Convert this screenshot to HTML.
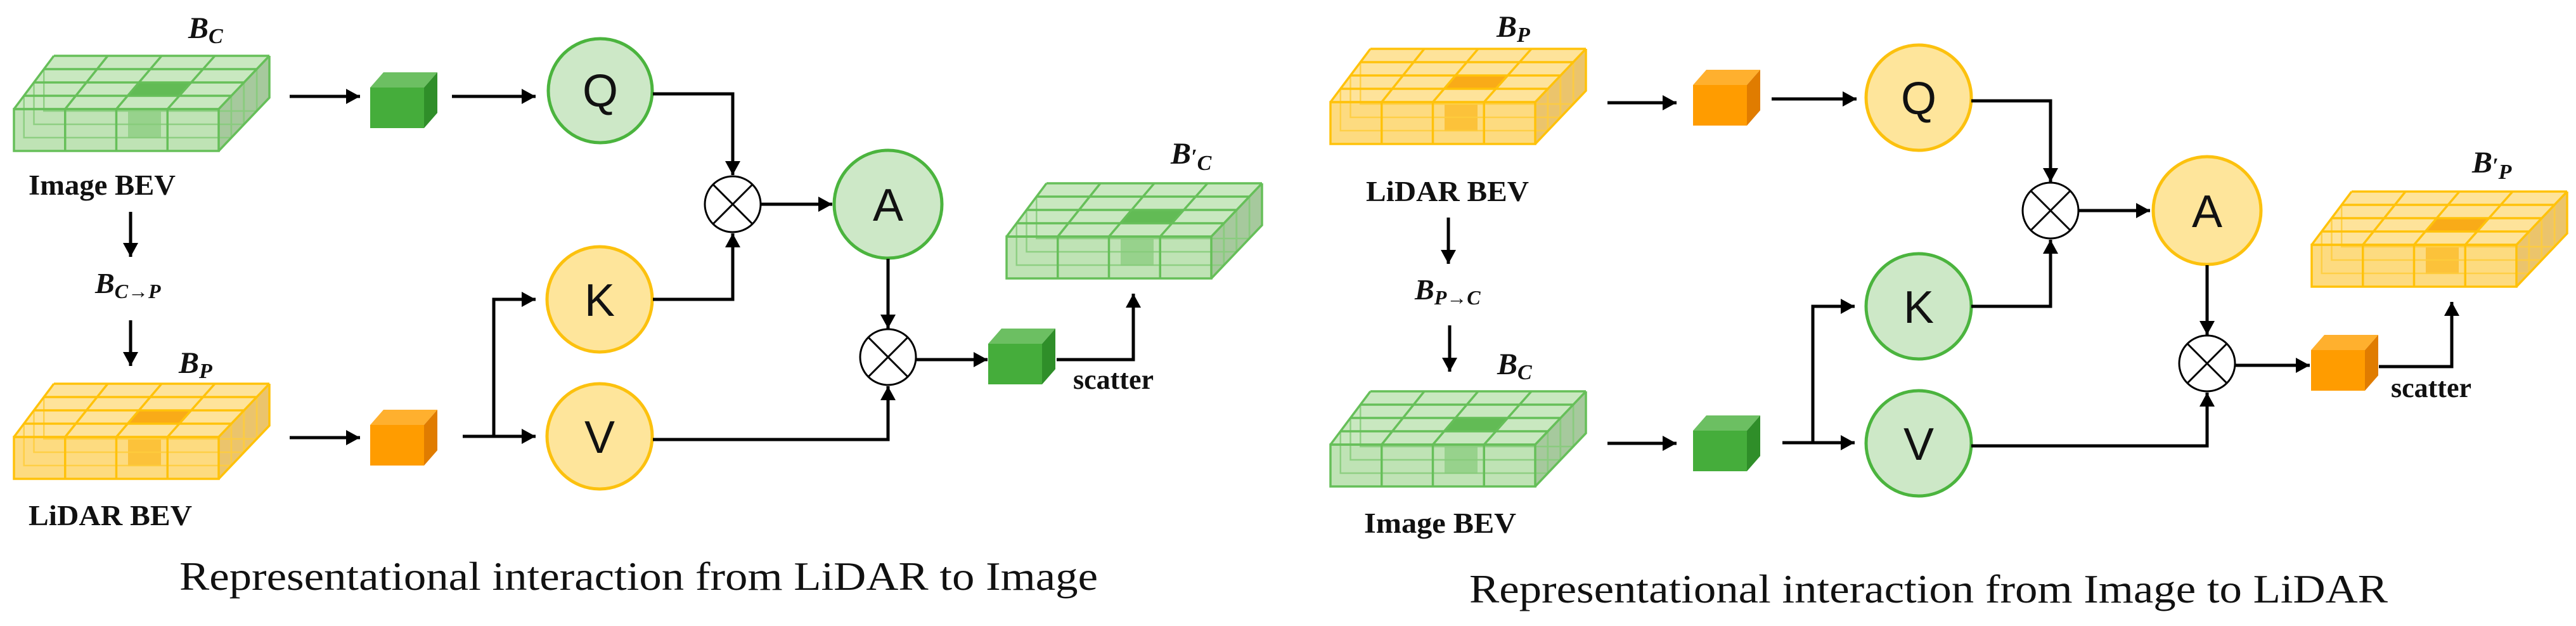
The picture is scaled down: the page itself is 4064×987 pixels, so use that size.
<!DOCTYPE html>
<html><head><meta charset="utf-8"><style>
html,body{margin:0;padding:0;background:#fff;}
svg{display:block;}
.lbl{font-family:"Liberation Serif",serif;font-weight:bold;fill:#111;}
.mi{font-family:"Liberation Serif",serif;font-weight:bold;font-style:italic;fill:#111;}
.let{font-family:"Liberation Sans",sans-serif;font-size:72px;fill:#111;text-anchor:middle;}
.ln{fill:none;stroke:#000;stroke-width:5;}
.ot{fill:#fff;stroke:#000;stroke-width:3;}
.cap{font-family:"Liberation Serif",serif;font-size:64px;fill:#111;}
</style></head><body>
<svg width="4064" height="987" viewBox="0 0 4064 987" xmlns="http://www.w3.org/2000/svg">
<defs>
<marker id="ah" markerUnits="userSpaceOnUse" markerWidth="26" markerHeight="26" refX="22" refY="12" orient="auto">
<path d="M0,0 L22,12 L0,24 Z" fill="#000"/>
</marker>
<g id="gridG">
<polygon points="0,84 63,0 403,0 323,84" fill="#c9e8c0"/>
<rect x="0" y="84" width="323" height="66" fill="#bfe3b5"/>
<polygon points="323,84 403,0 403,66 323,150" fill="#a6c99d"/>
<polygon points="179.4,63 261.2,63 280.1,42 197.25,42" fill="#62bb55"/>
<rect x="180" y="88" width="52" height="42" fill="#97d28c"/>
<g fill="none" stroke="#86cc7a" stroke-width="2.5" opacity="0.85">
<rect x="15.75" y="63" width="327" height="66"/>
<rect x="31.5" y="42" width="331" height="66"/>
<rect x="47.25" y="21" width="336" height="66"/>
<line x1="343" y1="63" x2="343" y2="129"/><line x1="363" y1="42" x2="363" y2="108"/><line x1="383" y1="21" x2="383" y2="87"/>
</g>
<g fill="none" stroke="#66bf59" stroke-width="3.5">
<line x1="0" y1="84" x2="323" y2="84"/><line x1="15.75" y1="63" x2="343" y2="63"/><line x1="31.5" y1="42" x2="363" y2="42"/><line x1="47.25" y1="21" x2="383" y2="21"/><line x1="63" y1="0" x2="403" y2="0"/>
<line x1="0" y1="84" x2="63" y2="0"/><line x1="80.75" y1="84" x2="148" y2="0"/><line x1="161.5" y1="84" x2="233" y2="0"/><line x1="242.25" y1="84" x2="317" y2="0"/><line x1="323" y1="84" x2="403" y2="0"/>
<rect x="0" y="84" width="323" height="66"/>
<line x1="80.75" y1="84" x2="80.75" y2="150"/><line x1="161.5" y1="84" x2="161.5" y2="150"/><line x1="242.25" y1="84" x2="242.25" y2="150"/>
<polyline points="323,150 403,66 403,0"/>
</g>
</g>
<g id="gridO">
<polygon points="0,84 63,0 403,0 323,84" fill="#fee39a"/>
<rect x="0" y="84" width="323" height="66" fill="#fddb80"/>
<polygon points="323,84 403,0 403,66 323,150" fill="#ebc46c"/>
<polygon points="179.4,63 261.2,63 280.1,42 197.25,42" fill="#f9ab18"/>
<rect x="180" y="88" width="52" height="42" fill="#fcc23a"/>
<g fill="none" stroke="#ffcd3d" stroke-width="2.5" opacity="0.85">
<rect x="15.75" y="63" width="327" height="66"/>
<rect x="31.5" y="42" width="331" height="66"/>
<rect x="47.25" y="21" width="336" height="66"/>
<line x1="343" y1="63" x2="343" y2="129"/><line x1="363" y1="42" x2="363" y2="108"/><line x1="383" y1="21" x2="383" y2="87"/>
</g>
<g fill="none" stroke="#ffc20a" stroke-width="3.5">
<line x1="0" y1="84" x2="323" y2="84"/><line x1="15.75" y1="63" x2="343" y2="63"/><line x1="31.5" y1="42" x2="363" y2="42"/><line x1="47.25" y1="21" x2="383" y2="21"/><line x1="63" y1="0" x2="403" y2="0"/>
<line x1="0" y1="84" x2="63" y2="0"/><line x1="80.75" y1="84" x2="148" y2="0"/><line x1="161.5" y1="84" x2="233" y2="0"/><line x1="242.25" y1="84" x2="317" y2="0"/><line x1="323" y1="84" x2="403" y2="0"/>
<rect x="0" y="84" width="323" height="66"/>
<line x1="80.75" y1="84" x2="80.75" y2="150"/><line x1="161.5" y1="84" x2="161.5" y2="150"/><line x1="242.25" y1="84" x2="242.25" y2="150"/>
<polyline points="323,150 403,66 403,0"/>
</g>
</g>
<g id="cubeG">
<polygon points="0,24 21,0 106,0 85,24" fill="#6cbf62"/>
<rect x="0" y="24" width="85" height="64" fill="#45ad3b"/>
<polygon points="85,24 106,0 106,64 85,88" fill="#2f8e29"/>
</g>
<g id="cubeO">
<polygon points="0,24 21,0 106,0 85,24" fill="#ffb02e"/>
<rect x="0" y="24" width="85" height="64" fill="#ff9c00"/>
<polygon points="85,24 106,0 106,64 85,88" fill="#e07c00"/>
</g>
<g id="otimes">
<circle cx="0" cy="0" r="44" class="ot"/>
<line x1="-31" y1="-31" x2="31" y2="31" stroke="#000" stroke-width="3"/>
<line x1="31" y1="-31" x2="-31" y2="31" stroke="#000" stroke-width="3"/>
</g>
</defs>

<!-- ===== LEFT PANEL ===== -->
<use href="#gridG" transform="translate(22,88)"/>
<use href="#gridO" transform="translate(22,605)"/>
<use href="#gridG" transform="translate(1588,289)"/>

<text class="mi" x="297" y="60" font-size="48">B<tspan font-size="34" dy="8">C</tspan></text>
<text class="lbl" x="45" y="307" font-size="45" textLength="232" lengthAdjust="spacingAndGlyphs">Image BEV</text>
<line class="ln" x1="206" y1="334" x2="206" y2="405" stroke-width="4" marker-end="url(#ah)"/>
<text class="mi" x="150" y="462" font-size="46">B<tspan font-size="32" dy="8">C→P</tspan></text>
<line class="ln" x1="206" y1="505" x2="206" y2="577" stroke-width="4" marker-end="url(#ah)"/>
<text class="mi" x="282" y="588" font-size="48">B<tspan font-size="34" dy="8">P</tspan></text>
<text class="lbl" x="45" y="828" font-size="45" textLength="258" lengthAdjust="spacingAndGlyphs">LiDAR BEV</text>

<line class="ln" x1="457" y1="152" x2="568" y2="152" marker-end="url(#ah)"/>
<use href="#cubeG" transform="translate(584,114)"/>
<line class="ln" x1="713" y1="152" x2="845" y2="152" marker-end="url(#ah)"/>
<circle cx="947" cy="143" r="82" fill="#cde8c7" stroke="#4bb43e" stroke-width="5"/>
<text class="let" x="947" y="168">Q</text>
<polyline class="ln" points="1030,148 1156,148 1156,276" stroke-width="4.5" marker-end="url(#ah)"/>
<use href="#otimes" transform="translate(1156,322)"/>
<line class="ln" x1="1200" y1="322" x2="1313" y2="322" marker-end="url(#ah)"/>
<circle cx="1401" cy="322" r="85" fill="#cde8c7" stroke="#4bb43e" stroke-width="5"/>
<text class="let" x="1401" y="348">A</text>

<circle cx="946" cy="472" r="83" fill="#fee59b" stroke="#fcc10e" stroke-width="5"/>
<text class="let" x="946" y="498">K</text>
<polyline class="ln" points="1030,472 1156,472 1156,368" stroke-width="4.5" marker-end="url(#ah)"/>

<line class="ln" x1="457" y1="690" x2="568" y2="690" marker-end="url(#ah)"/>
<use href="#cubeO" transform="translate(584,646)"/>
<line class="ln" x1="730" y1="688" x2="845" y2="688" marker-end="url(#ah)"/>
<polyline class="ln" points="779,688 779,472 845,472" stroke-width="4.5" marker-end="url(#ah)"/>
<circle cx="946" cy="688" r="83" fill="#fee59b" stroke="#fcc10e" stroke-width="5"/>
<text class="let" x="946" y="714">V</text>
<polyline class="ln" points="1030,693 1401,693 1401,609" stroke-width="4.5" marker-end="url(#ah)"/>

<line class="ln" x1="1401" y1="408" x2="1401" y2="518" stroke-width="4" marker-end="url(#ah)"/>
<use href="#otimes" transform="translate(1401,563)"/>
<line class="ln" x1="1445" y1="567" x2="1558" y2="567" marker-end="url(#ah)"/>
<use href="#cubeG" transform="translate(1559,518)"/>
<polyline class="ln" points="1667,567 1788,567 1788,463" marker-end="url(#ah)"/>
<text class="lbl" x="1693" y="613" font-size="44">scatter</text>
<text class="mi" x="1847" y="258" font-size="48">B<tspan font-size="34">′</tspan><tspan font-size="34" dy="10">C</tspan></text>

<text class="cap" x="283" y="930" textLength="1449" lengthAdjust="spacingAndGlyphs">Representational interaction from LiDAR to Image</text>

<!-- ===== RIGHT PANEL ===== -->
<use href="#gridO" transform="translate(2099,77)"/>
<use href="#gridG" transform="translate(2099,617)"/>
<use href="#gridO" transform="translate(3647,302)"/>

<text class="mi" x="2361" y="58" font-size="48">B<tspan font-size="34" dy="8">P</tspan></text>
<text class="lbl" x="2155" y="317" font-size="45" textLength="257" lengthAdjust="spacingAndGlyphs">LiDAR BEV</text>
<line class="ln" x1="2285" y1="343" x2="2285" y2="416" stroke-width="4" marker-end="url(#ah)"/>
<text class="mi" x="2232" y="472" font-size="46">B<tspan font-size="32" dy="8">P→C</tspan></text>
<line class="ln" x1="2287" y1="513" x2="2287" y2="586" stroke-width="4" marker-end="url(#ah)"/>
<text class="mi" x="2362" y="590" font-size="48">B<tspan font-size="34" dy="8">C</tspan></text>
<text class="lbl" x="2152" y="840" font-size="45" textLength="240" lengthAdjust="spacingAndGlyphs">Image BEV</text>

<line class="ln" x1="2536" y1="162" x2="2645" y2="162" marker-end="url(#ah)"/>
<use href="#cubeO" transform="translate(2671,110)"/>
<line class="ln" x1="2795" y1="156" x2="2929" y2="156" marker-end="url(#ah)"/>
<circle cx="3027" cy="154" r="83" fill="#fee59b" stroke="#fcc10e" stroke-width="5"/>
<text class="let" x="3027" y="180">Q</text>
<polyline class="ln" points="3110,159 3235,159 3235,287" stroke-width="4.5" marker-end="url(#ah)"/>
<use href="#otimes" transform="translate(3235,332)"/>
<line class="ln" x1="3279" y1="332" x2="3392" y2="332" marker-end="url(#ah)"/>
<circle cx="3482" cy="332" r="85" fill="#fee59b" stroke="#fcc10e" stroke-width="5"/>
<text class="let" x="3482" y="358">A</text>

<circle cx="3027" cy="483" r="83" fill="#cde8c7" stroke="#4bb43e" stroke-width="5"/>
<text class="let" x="3027" y="509">K</text>
<polyline class="ln" points="3110,483 3235,483 3235,378" stroke-width="4.5" marker-end="url(#ah)"/>

<line class="ln" x1="2536" y1="699" x2="2645" y2="699" marker-end="url(#ah)"/>
<use href="#cubeG" transform="translate(2671,655)"/>
<line class="ln" x1="2812" y1="698" x2="2926" y2="698" marker-end="url(#ah)"/>
<polyline class="ln" points="2860,698 2860,483 2926,483" stroke-width="4.5" marker-end="url(#ah)"/>
<circle cx="3027" cy="699" r="83" fill="#cde8c7" stroke="#4bb43e" stroke-width="5"/>
<text class="let" x="3027" y="725">V</text>
<polyline class="ln" points="3110,703 3482,703 3482,619" stroke-width="4.5" marker-end="url(#ah)"/>

<line class="ln" x1="3482" y1="418" x2="3482" y2="528" stroke-width="4" marker-end="url(#ah)"/>
<use href="#otimes" transform="translate(3482,573)"/>
<line class="ln" x1="3526" y1="576" x2="3644" y2="576" marker-end="url(#ah)"/>
<use href="#cubeO" transform="translate(3646,528)"/>
<polyline class="ln" points="3753,578 3868,578 3868,476" marker-end="url(#ah)"/>
<text class="lbl" x="3772" y="626" font-size="44">scatter</text>
<text class="mi" x="3900" y="272" font-size="48">B<tspan font-size="34">′</tspan><tspan font-size="34" dy="10">P</tspan></text>

<text class="cap" x="2318" y="950" textLength="1449" lengthAdjust="spacingAndGlyphs">Representational interaction from Image to LiDAR</text>
</svg>
</body></html>
